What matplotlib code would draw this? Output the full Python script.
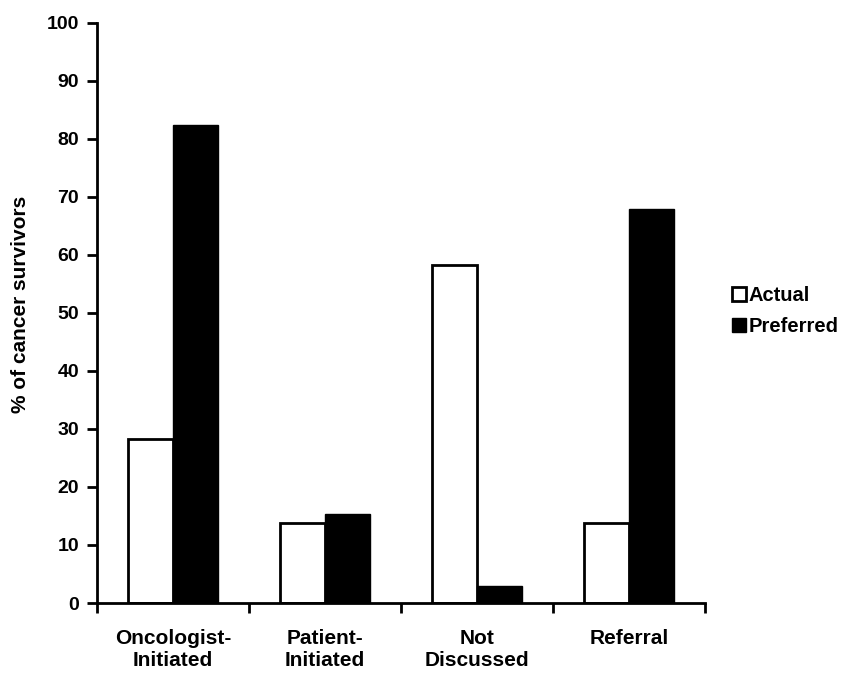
import matplotlib
matplotlib.use("Agg")
import matplotlib.pyplot as plt
import numpy as np
from matplotlib.patches import Patch

plt.rcParams['font.family'] = ['Liberation Sans', 'DejaVu Sans']
plt.rcParams['font.weight'] = 'bold'

categories = ["Oncologist-\nInitiated", "Patient-\nInitiated", "Not\nDiscussed", "Referral"]
actual = [28.2, 13.8, 58.3, 13.7]
preferred = [82.4, 15.3, 2.9, 67.9]
series_names = ["Actual", "Preferred"]
yticks = list(range(0, 101, 10))

W, H = 849, 673
fig = plt.figure(figsize=(W / 100, H / 100), dpi=100)
ax = fig.add_axes([97 / W, 70 / H, (705 - 97) / W, (603 - 22.7) / H])

x = np.arange(len(categories))
bw = 0.296
ax.bar(x - bw / 2, actual, bw, color='white', edgecolor='black', linewidth=2, label=series_names[0])
ax.bar(x + bw / 2, preferred, bw, color='black', edgecolor='black', linewidth=1, label=series_names[1])

ax.set_xlim(-0.5, len(categories) - 0.5)
ax.set_ylim(0, 100)
ax.set_yticks(yticks)
ax.set_yticklabels([str(t) for t in yticks], fontsize=14, fontweight='bold')
ax.set_xticks(np.arange(len(categories) + 1) - 0.5)
ax.set_xticklabels([])
ax.set_xticks(x, minor=True)
ax.set_xticklabels(categories, minor=True, fontsize=15, fontweight='bold', linespacing=1.2)
ax.tick_params(axis='x', which='minor', length=0, pad=19)
ax.tick_params(axis='x', which='major', length=7, width=2, direction='out')
ax.tick_params(axis='y', length=7, width=2, direction='out', pad=6)

for s in ['top', 'right']:
    ax.spines[s].set_visible(False)
for s in ['left', 'bottom']:
    ax.spines[s].set_linewidth(2)

ax.set_ylabel("% of cancer survivors", fontsize=15, fontweight='bold')
ax.yaxis.set_label_coords(-0.111, 0.515)

handles = [Patch(facecolor='white', edgecolor='black', linewidth=2),
           Patch(facecolor='black', edgecolor='black')]
leg = fig.legend(handles, series_names, loc='center left', bbox_to_anchor=(722 / W, 1 - 311 / H),
                 frameon=False, fontsize=14.5, handlelength=0.7, handleheight=0.7,
                 handletextpad=0.12, labelspacing=0.6, borderpad=0)
for t in leg.get_texts():
    t.set_fontweight('bold')

fig.savefig("out.png", dpi=100, facecolor='white')
